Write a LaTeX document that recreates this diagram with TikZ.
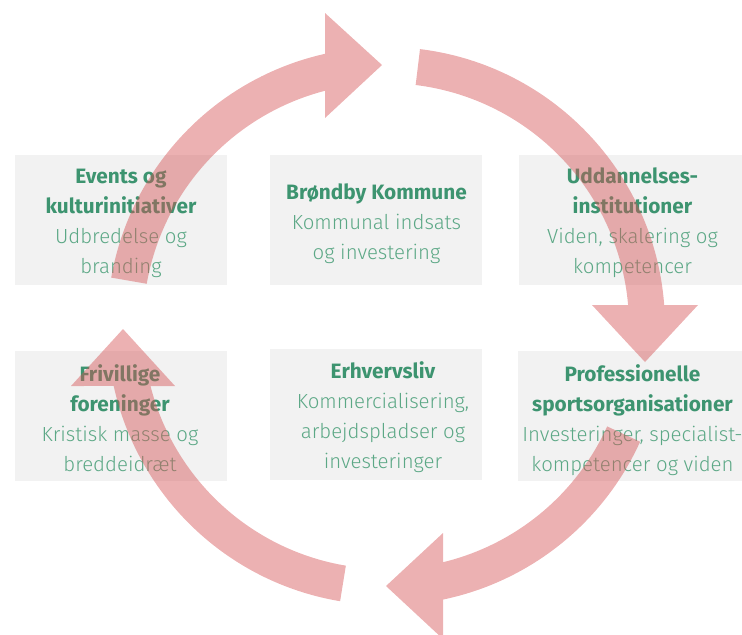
\documentclass[tikz,border=0pt]{standalone}
\usepackage{fontspec}
\setmainfont{Fira Sans}
\newfontfamily\lightfont{Fira Sans Light}

\definecolor{boxgrey}{RGB}{242,242,242}
\definecolor{titlegreen}{RGB}{61,148,112}
\definecolor{textgreen}{RGB}{92,168,134}
\definecolor{arrowred}{RGB}{213,82,84}

\newcommand{\ttl}[1]{{\normalfont\bfseries\fontsize{10.4}{15}\selectfont\color{titlegreen}#1}}

\begin{document}
\begin{tikzpicture}[x=0.5pt, y=-0.5pt,
  txt/.style={align=center, text=textgreen, inner sep=0pt,
    font=\lightfont\fontsize{10.2}{15}\selectfont},
  cyclearrow/.style={fill=arrowred, fill opacity=0.45}]

\useasboundingbox (0,0) rectangle (742,634);

% boxes
\fill[boxgrey] (15,155) rectangle (227,285);
\fill[boxgrey] (270,155) rectangle (482,285);
\fill[boxgrey] (519,155) rectangle (742,285);
\fill[boxgrey] (15,351) rectangle (227,481);
\fill[boxgrey] (270,349) rectangle (482,480);
\fill[boxgrey] (518,351) rectangle (742,481);

\node[txt] (events) at (121,223) {\ttl{Events og}\\\ttl{kulturinitiativer}\\Udbredelse og\\branding};
\node[txt] (kommune) at (376.5,224) {\ttl{Brøndby Kommune}\\Kommunal indsats\\og investering};
\node[txt] (uddannelse) at (632.5,223) {\ttl{Uddannelses-}\\\ttl{institutioner}\\Viden, skalering og\\kompetencer};
\node[txt] (frivillige) at (120,418) {\ttl{Frivillige}\\\ttl{foreninger}\\Kristisk masse og\\breddeidræt};
\node[txt] (erhverv) at (383,417) {\ttl{Erhvervsliv}\\Kommercialisering,\\arbejdspladser og\\investeringer};
\node[txt] (sport) at (632.5,420) {\ttl{Professionelle}\\\ttl{sportsorganisationer}\\Investeringer, specialist-\\kompetencer og viden};

% cycle arrows
\fill[cyclearrow] (111.2,277.6) arc[start angle=190, end angle=257.4, radius=279]
  -- (325,13) -- (382,65) -- (325,118) -- (325.2,90.7)
  arc[start angle=255.5, end angle=190, radius=243] -- cycle;
\fill[cyclearrow] (420,49.1) arc[start angle=-83, end angle=-4.3, radius=279]
  -- (698,305) -- (645,362) -- (592,305) -- (628.1,305)
  arc[start angle=-5, end angle=-83, radius=243] -- cycle;
\fill[cyclearrow] (640.1,441.7) arc[start angle=24.4, end angle=78.2, radius=279]
  -- (443,639) -- (386,586) -- (443,533) -- (443,562.2)
  arc[start angle=76.4, end angle=24.4, radius=243] -- cycle;
\fill[cyclearrow] (340.1,601.2) arc[start angle=99.5, end angle=167.6, radius=279]
  -- (71,386) -- (123,329) -- (175,386) -- (150.5,386)
  arc[start angle=165.7, end angle=99.5, radius=243] -- cycle;
\end{tikzpicture}
\end{document}
